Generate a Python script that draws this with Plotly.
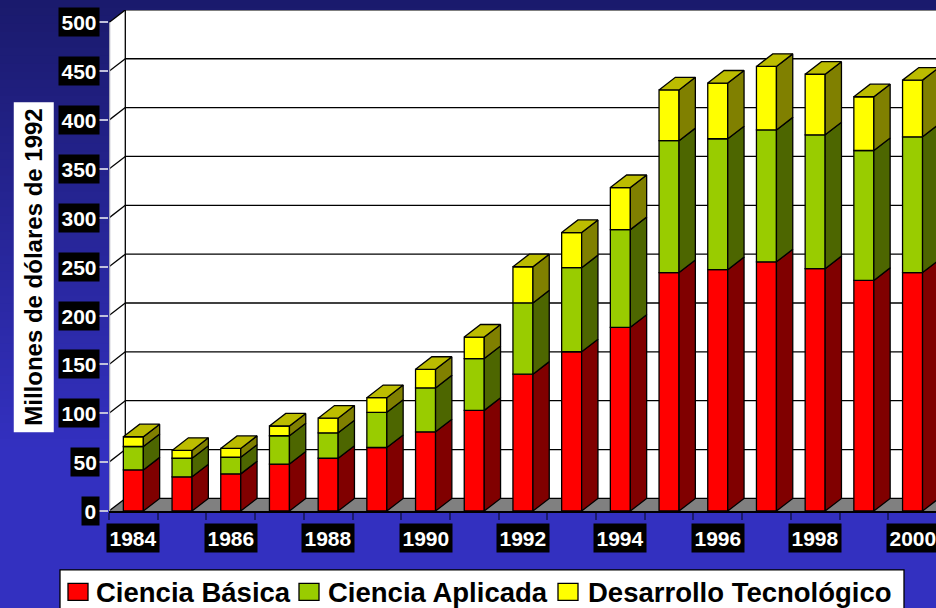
import plotly.graph_objects as go

years = list(range(1984, 2001))
ciencia_basica = [42, 35, 38, 48, 54, 65, 81, 103, 140, 163, 188, 244, 247, 255, 248, 236, 244]
ciencia_aplicada = [24, 19, 17, 29, 26, 36, 45, 53, 73, 86, 100, 135, 134, 135, 137, 133, 139]
desarrollo_tec = [10, 8, 9, 10, 15, 15, 19, 22, 37, 36, 43, 52, 57, 65, 62, 55, 58]
y_ticks = [0, 50, 100, 150, 200, 250, 300, 350, 400, 450, 500]
x_label_years = years[::2]
y_title = "Millones de dólares de 1992"
series_names = ["Ciencia Básica", "Ciencia Aplicada", "Desarrollo Tecnológico"]
front_colors = ["#ff0000", "#99cc00", "#ffff00"]
side_colors = ["#800000", "#4d6600", "#808000"]
top_color = "#bcbc00"

W, H = 936, 608
L, R, T, B = 109, 0, 10, 96.5
PW, PH = W - L - R, H - T - B
X_STEP = 48.7
Y_SCALE = 0.978
X0 = -0.5
X1 = X0 + PW / X_STEP
Y1 = PH / Y_SCALE
DX = 16.3 / X_STEP
DY = 12.6 / Y_SCALE
BAR_W = 20 / X_STEP
FONT = "Liberation Sans, Arial, sans-serif"
EDGE = dict(color="black", width=1.3)


def px_x(p):
    return (p - L) / PW


def px_y(p):
    return (H - B - p) / PH


shapes = []
# page gradient
STRIPS = 76
for i in range(STRIPS):
    y_px = (i + 0.5) * H / STRIPS
    t = min(y_px / 450, 1)
    c = f"rgb({round(26 + 25 * t)},{round(26 + 22 * t)},{round(108 + 84 * t)})"
    shapes.append(dict(type="rect", xref="paper", yref="paper", layer="below",
                       x0=px_x(-5), x1=px_x(W + 5),
                       y0=px_y(i * H / STRIPS - 0.5), y1=px_y((i + 1) * H / STRIPS + 0.5),
                       fillcolor=c, line=dict(width=0)))


def path(points):
    return "M" + " L".join(f"{x},{y}" for x, y in points) + " Z"


# walls and floor
shapes.append(dict(type="path", layer="below", xref="x", yref="y",
                   path=path([(X0, 0), (X0 + DX, DY), (X0 + DX, 500 + DY), (X0, 500)]),
                   fillcolor="white", line=dict(width=0)))
shapes.append(dict(type="rect", layer="below", xref="x", yref="y",
                   x0=X0 + DX, x1=X1 + 1, y0=DY, y1=500 + DY,
                   fillcolor="white", line=dict(width=0)))
shapes.append(dict(type="path", layer="below", xref="x", yref="y",
                   path=path([(X0, 0), (X0 + DX, DY), (X1 + 1, DY), (X1 + 1, 0)]),
                   fillcolor="#808080", line=dict(width=0)))
for v in y_ticks:
    shapes.append(dict(type="line", layer="below", xref="x", yref="y",
                       x0=X0, x1=X0 + DX, y0=v, y1=v + DY, line=EDGE))
    shapes.append(dict(type="line", layer="below", xref="x", yref="y",
                       x0=X0 + DX, x1=X1 + 1, y0=v + DY, y1=v + DY, line=EDGE))
shapes.append(dict(type="line", layer="below", xref="x", yref="y",
                   x0=X0 + DX, x1=X0 + DX, y0=DY, y1=500 + DY, line=EDGE))
shapes.append(dict(type="line", layer="below", xref="x", yref="y",
                   x0=X0, x1=X0, y0=0, y1=500, line=dict(color="#a8a8b8", width=2.5)))

fig = go.Figure()
segments = [ciencia_basica, ciencia_aplicada, desarrollo_tec]
bases = [[0] * len(years)]
for seg in segments[:-1]:
    bases.append([b + s for b, s in zip(bases[-1], seg)])

for name, seg, base, fc in zip(series_names, segments, bases, front_colors):
    fig.add_trace(go.Bar(x=list(range(len(years))), y=seg, base=base, name=name, width=BAR_W,
                         marker=dict(color=fc, line=EDGE), hoverinfo="skip", showlegend=False))

for seg, base, sc in zip(segments, bases, side_colors):
    xs, ys = [], []
    for i, (s, b) in enumerate(zip(seg, base)):
        xr = i + BAR_W / 2
        xs += [xr, xr + DX, xr + DX, xr, xr, None]
        ys += [b, b + DY, b + s + DY, b + s, b, None]
    fig.add_trace(go.Scatter(x=xs, y=ys, mode="lines", fill="toself", fillcolor=sc,
                             line=EDGE, showlegend=False, hoverinfo="skip"))
xs, ys = [], []
for i, total in enumerate(b + s for b, s in zip(bases[-1], segments[-1])):
    xl, xr = i - BAR_W / 2, i + BAR_W / 2
    xs += [xl, xl + DX, xr + DX, xr, xl, None]
    ys += [total, total + DY, total + DY, total, total, None]
fig.add_trace(go.Scatter(x=xs, y=ys, mode="lines", fill="toself", fillcolor=top_color,
                         line=EDGE, showlegend=False, hoverinfo="skip"))

annotations = []
for v in y_ticks:
    annotations.append(dict(x=px_x(100), xref="paper", y=v, yref="y", text=f"<b>{v}</b>",
                            xanchor="right", yanchor="middle", showarrow=False,
                            bgcolor="black", borderpad=2.5,
                            font=dict(family=FONT, size=21, color="white")))
for yr in x_label_years:
    annotations.append(dict(x=years.index(yr), xref="x", y=px_y(524), yref="paper",
                            text=f"<b>{yr}</b>", xanchor="center", yanchor="top",
                            showarrow=False, bgcolor="black", borderpad=2.5,
                            font=dict(family=FONT, size=21, color="white")))
annotations.append(dict(x=px_x(34), xref="paper", y=px_y(268), yref="paper",
                        text=f"<b>{y_title}</b>", textangle=-90, showarrow=False,
                        xanchor="center", yanchor="middle", bgcolor="white", borderpad=6,
                        font=dict(family=FONT, size=24, color="black")))

# legend panel, drawn from the series names and colours
swatch_left = [68, 299, 558]
text_left = [95, 327, 587]
shapes.append(dict(type="rect", layer="above", xref="paper", yref="paper",
                   x0=px_x(60), x1=px_x(904), y0=px_y(570.5), y1=px_y(612),
                   fillcolor="white", line=dict(color="black", width=1.3)))
for name, fc, sl, tl in zip(series_names, front_colors, swatch_left, text_left):
    shapes.append(dict(type="rect", layer="above", xref="paper", yref="paper",
                       x0=px_x(sl), x1=px_x(sl + 20), y0=px_y(584), y1=px_y(601),
                       fillcolor=fc, line=dict(color="black", width=1.3)))
    annotations.append(dict(x=px_x(tl), xref="paper", y=px_y(593), yref="paper",
                            text=f"<b>{name}</b>", xanchor="left", yanchor="middle",
                            showarrow=False, borderpad=0,
                            font=dict(family=FONT, size=27.5, color="black")))

fig.update_layout(
    width=W, height=H, margin=dict(l=L, r=R, t=T, b=B, pad=0, autoexpand=False),
    paper_bgcolor="#3030c0", plot_bgcolor="rgba(0,0,0,0)",
    barmode="overlay", shapes=shapes, annotations=annotations,
    xaxis=dict(range=[X0, X1], showgrid=False, zeroline=False, showline=True,
               linecolor="black", linewidth=1.5,
               tickmode="array", tickvals=[i - 0.5 for i in range(18)], ticks="outside",
               ticklen=7, tickwidth=1.5, tickcolor="#1a1a6c", showticklabels=False),
    yaxis=dict(range=[0, Y1], showgrid=False, zeroline=False, showline=False,
               tickmode="array", tickvals=y_ticks, ticks="outside", ticklen=9,
               tickwidth=1.5, tickcolor="#c0c0dc", showticklabels=False),
    showlegend=False,
)
fig.write_html("out.html", config={"displayModeBar": False},
               post_script="document.body.style.margin='0';document.body.style.overflow='hidden';")
